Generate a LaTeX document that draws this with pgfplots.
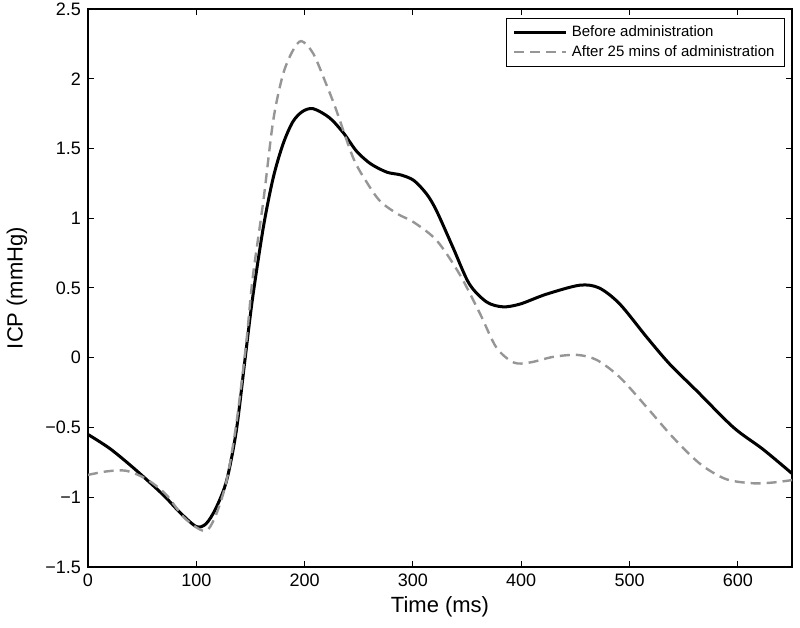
\documentclass[border=0pt]{standalone}
\usepackage{pgfplots}
\pgfplotsset{compat=1.18}
\usepackage{fontspec}
\setmainfont{Liberation Sans}
\definecolor{dgray}{RGB}{150,150,150}
\begin{document}
\begin{tikzpicture}
\begin{axis}[
  scale only axis,
  width=352pt, height=279pt,
  xmin=0, xmax=650, ymin=-1.5, ymax=2.5,
  xtick={0,100,...,600},
  ytick={-1.5,-1,-0.5,0,0.5,1,1.5,2,2.5},
  yticklabels={−1.5,−1,−0.5,0,0.5,1,1.5,2,2.5},
  tick align=inside,
  major tick length=3pt,
  axis line style={line width=0.6pt},
  every tick/.style={black, line width=0.5pt},
  tick label style={font=\fontsize{9}{10}\selectfont},
  /pgf/number format/assume math mode=true,
  xlabel={Time (ms)}, ylabel={ICP (mmHg)},
  label style={font=\fontsize{11}{12}\selectfont},
  xlabel style={at={(axis description cs:0.5,-0.0717)}, anchor=center},
  ylabel style={at={(axis description cs:-0.1009,0.5)}, anchor=center, rotate=0},
  legend style={at={(0.990,0.984)}, anchor=north east, draw=black, line width=0.5pt,
    font=\fontsize{7.5}{8.5}\selectfont, inner xsep=3pt, inner ysep=1.5pt, row sep=-1pt},
  legend cell align=left,
  legend image code/.code={\draw[#1] (0pt,0pt) -- (26pt,0pt);},
]
\addplot[black, line width=1.5pt, smooth, tension=0.5] coordinates {
(0,-0.55) (20,-0.65) (42,-0.79) (69,-0.98) (85,-1.11) (100,-1.21) (109,-1.19)
(118,-1.08) (128,-0.88) (137,-0.52) (145,-0.01) (152,0.43) (162,0.94) (171,1.29)
(180,1.53) (189,1.69) (198,1.765) (208,1.785) (223,1.72) (236,1.61) (248,1.48) (261,1.39)
(276,1.33) (289,1.31) (301,1.27) (313,1.17) (322,1.05) (337,0.79) (352,0.53)
(368,0.40) (383,0.365) (399,0.385) (423,0.455) (454,0.52) (472,0.50) (491,0.385)
(516,0.146) (537,-0.045) (562,-0.237) (596,-0.50) (623,-0.655) (650,-0.83)
};
\addlegendentry{Before administration}
\addplot[dgray, line width=1.2pt, dash pattern=on 5pt off 3pt, smooth, tension=0.5] coordinates {
(0,-0.84) (17,-0.815) (35,-0.81) (54,-0.87) (72,-0.98) (88,-1.14) (103,-1.23)
(111,-1.23) (119,-1.11) (128,-0.88) (137,-0.47) (146,0.10) (152,0.57) (162,1.13)
(171,1.70) (180,2.03) (189,2.20) (197,2.27) (208,2.18) (220,1.96) (229,1.78) (245,1.43)
(258,1.25) (270,1.12) (286,1.03) (301,0.97) (322,0.84) (343,0.60) (362,0.315)
(377,0.074) (393,-0.034) (408,-0.034) (430,0.007) (452,0.02) (470,-0.017)
(491,-0.14) (516,-0.356) (540,-0.57) (565,-0.76) (589,-0.87) (614,-0.90)
(633,-0.894) (650,-0.877)
};
\addlegendentry{After 25 mins of administration}
\end{axis}
\pgfresetboundingbox
\path ([shift={(-44pt,-30.5pt)}]current axis.south west) rectangle ([shift={(4pt,4.5pt)}]current axis.north east);
\end{tikzpicture}
\end{document}
